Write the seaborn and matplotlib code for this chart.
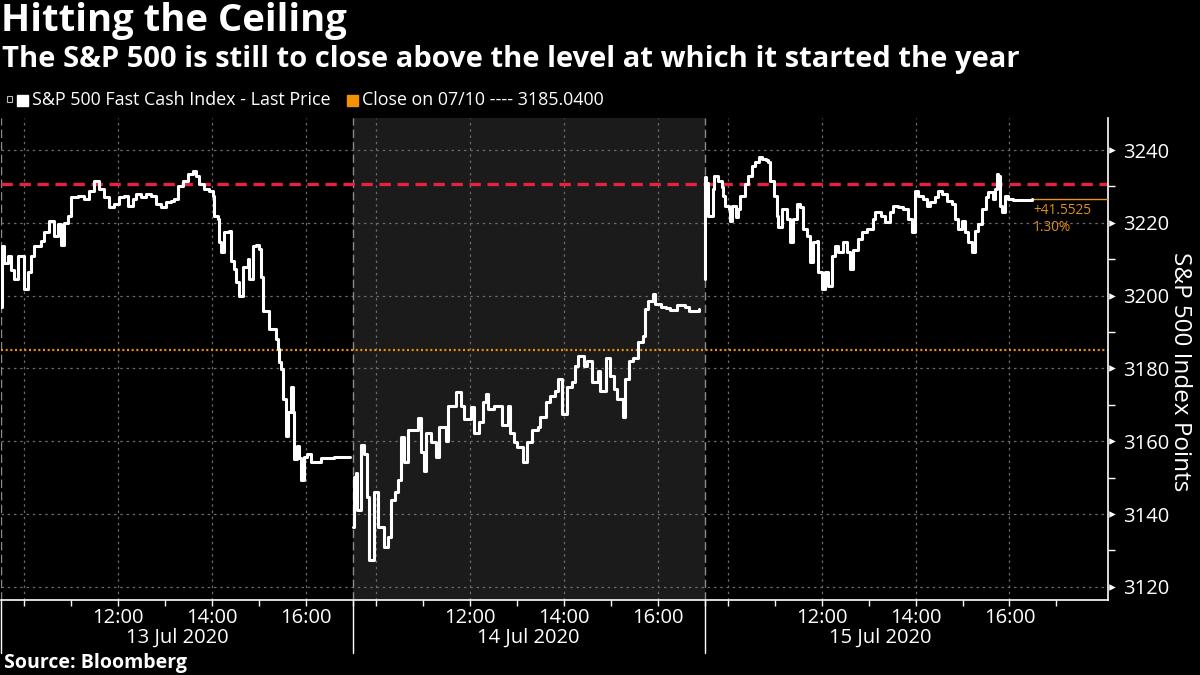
import matplotlib
matplotlib.use("Agg")
import matplotlib.pyplot as plt
import matplotlib.transforms as mtransforms
import seaborn as sns
import pandas as pd
import numpy as np

# ---------------- data ----------------
day_labels = ["13 Jul 2020", "14 Jul 2020", "15 Jul 2020"]

d1_time = [9.50, 9.52, 9.56, 9.65, 9.71, 9.78, 9.86, 9.97, 9.99, 10.08, 10.14, 10.20, 10.35, 10.42,
           10.52, 10.63, 10.71, 10.78, 10.84, 10.93, 10.99, 11.14, 11.27, 11.37, 11.48, 11.59, 11.69,
           11.80, 11.91, 12.01, 12.12, 12.20, 12.31, 12.38, 12.48, 12.59, 12.69, 12.80, 12.91, 13.01,
           13.12, 13.18, 13.27, 13.38, 13.48, 13.59, 13.65, 13.72, 13.82, 13.93, 14.02, 14.04, 14.12,
           14.14, 14.19, 14.25, 14.36, 14.40, 14.46, 14.51, 14.57, 14.65, 14.76, 14.78, 14.87, 14.93,
           14.99, 15.04, 15.08, 15.19, 15.21, 15.29, 15.36, 15.40, 15.42, 15.46, 15.51, 15.57, 15.61,
           15.68, 15.72, 15.74, 15.80, 15.85, 15.89, 15.95, 16.02, 16.10, 16.32, 16.59, 16.95]
d1_price = [3197.0, 3213.6, 3209.0, 3211.0, 3207.0, 3204.5, 3210.8, 3210.8, 3201.8, 3206.4, 3210.8,
            3213.6, 3215.0, 3217.4, 3220.5, 3216.4, 3219.6, 3214.0, 3220.0, 3221.8, 3227.0, 3227.4,
            3226.5, 3228.7, 3231.5, 3229.3, 3227.0, 3224.3, 3225.1, 3227.0, 3227.4, 3224.6, 3226.5,
            3227.9, 3227.0, 3227.9, 3227.4, 3225.1, 3224.3, 3225.7, 3226.0, 3226.5, 3230.0, 3231.5,
            3233.4, 3234.2, 3232.8, 3230.6, 3229.3, 3228.7, 3227.4, 3221.8, 3221.0, 3214.7, 3212.0,
            3217.4, 3217.7, 3209.5, 3207.3, 3203.7, 3199.8, 3208.0, 3210.0, 3204.5, 3213.6, 3214.0,
            3212.8, 3205.0, 3195.7, 3195.7, 3190.8, 3190.8, 3188.0, 3185.3, 3181.7, 3179.8, 3171.5,
            3161.5, 3168.0, 3175.0, 3168.0, 3155.0, 3158.6, 3155.5, 3149.5, 3155.8, 3156.5, 3154.2,
            3155.5, 3155.8, 3155.8]

d2_time = [9.50, 9.52, 9.56, 9.60, 9.67, 9.73, 9.80, 9.84, 9.92, 9.95, 10.03, 10.09, 10.16, 10.24,
           10.31, 10.41, 10.46, 10.52, 10.59, 10.67, 10.78, 10.88, 10.95, 11.01, 11.05, 11.16, 11.27,
           11.33, 11.48, 11.54, 11.69, 11.80, 11.86, 12.01, 12.08, 12.18, 12.27, 12.33, 12.39, 12.50,
           12.61, 12.69, 12.80, 12.86, 12.93, 13.01, 13.12, 13.22, 13.33, 13.44, 13.50, 13.61, 13.71,
           13.82, 13.88, 13.97, 14.07, 14.18, 14.24, 14.31, 14.42, 14.50, 14.61, 14.72, 14.78, 14.89,
           14.99, 15.06, 15.14, 15.25, 15.31, 15.38, 15.48, 15.59, 15.68, 15.74, 15.80, 15.89, 15.95,
           16.06, 16.17, 16.27, 16.42, 16.59, 16.66, 16.87]
d2_price = [3136.5, 3150.3, 3151.4, 3141.0, 3159.0, 3156.4, 3144.8, 3127.5, 3127.5, 3146.0, 3136.5,
            3136.5, 3131.0, 3133.8, 3144.0, 3146.0, 3149.5, 3161.3, 3154.2, 3163.2, 3163.0, 3166.5,
            3157.0, 3151.7, 3162.4, 3159.7, 3155.8, 3164.0, 3160.0, 3169.6, 3173.4, 3169.6, 3166.0,
            3169.3, 3162.4, 3165.2, 3170.7, 3172.9, 3168.8, 3169.6, 3169.6, 3164.6, 3169.6, 3162.4,
            3159.7, 3158.3, 3154.4, 3159.7, 3163.2, 3164.0, 3166.8, 3170.7, 3172.3, 3173.7, 3177.0,
            3167.4, 3175.0, 3176.2, 3180.6, 3183.4, 3180.6, 3182.0, 3176.2, 3179.2, 3173.7, 3183.0,
            3177.8, 3174.3, 3171.5, 3166.8, 3177.0, 3182.0, 3183.0, 3187.2, 3188.8, 3196.2, 3198.5,
            3200.4, 3197.6, 3196.8, 3196.5, 3196.0, 3197.3, 3197.0, 3195.7, 3196.3]

d3_time = [9.50, 9.51, 9.54, 9.58, 9.67, 9.69, 9.79, 9.88, 9.90, 9.94, 10.01, 10.05, 10.09, 10.16,
           10.22, 10.26, 10.37, 10.43, 10.52, 10.58, 10.65, 10.73, 10.80, 10.86, 10.90, 10.97, 11.05,
           11.07, 11.16, 11.26, 11.33, 11.39, 11.48, 11.54, 11.60, 11.69, 11.75, 11.82, 11.90, 11.92,
           12.01, 12.07, 12.14, 12.22, 12.29, 12.35, 12.46, 12.54, 12.61, 12.67, 12.76, 12.86, 12.97,
           13.08, 13.14, 13.25, 13.35, 13.46, 13.52, 13.63, 13.73, 13.84, 13.92, 13.99, 14.05, 14.16,
           14.24, 14.31, 14.42, 14.48, 14.57, 14.67, 14.78, 14.84, 14.90, 14.99, 15.05, 15.12, 15.20,
           15.27, 15.33, 15.42, 15.49, 15.55, 15.64, 15.70, 15.74, 15.76, 15.80, 15.85, 15.91, 15.97,
           16.08, 16.23, 16.38, 16.49]
d3_price = [3204.5, 3232.6, 3231.0, 3221.8, 3229.3, 3232.8, 3231.5, 3229.8, 3227.4, 3224.6, 3223.8,
            3220.5, 3224.6, 3221.6, 3223.8, 3227.4, 3230.6, 3232.8, 3235.6, 3236.7, 3238.0, 3237.5,
            3237.2, 3236.7, 3231.5, 3227.4, 3221.8, 3218.8, 3223.8, 3221.0, 3214.7, 3221.0, 3225.1,
            3224.3, 3218.3, 3216.4, 3209.2, 3214.7, 3215.0, 3206.4, 3201.8, 3206.4, 3202.6, 3210.8,
            3213.6, 3212.0, 3214.7, 3212.0, 3207.3, 3212.5, 3215.5, 3217.4, 3218.3, 3221.0, 3222.9,
            3222.0, 3220.2, 3222.9, 3224.6, 3224.3, 3223.8, 3221.0, 3217.4, 3228.7, 3227.4, 3226.5,
            3224.6, 3225.7, 3227.0, 3228.7, 3228.0, 3226.0, 3225.1, 3221.0, 3218.3, 3220.5, 3217.4,
            3214.7, 3212.0, 3217.7, 3219.6, 3223.8, 3227.0, 3228.4, 3226.5, 3229.3, 3233.4, 3233.0,
            3224.6, 3222.9, 3227.4, 3226.5, 3226.2, 3226.2, 3226.4, 3226.59]

prev_close = 3185.04
year_start_level = 3230.78
change_text = "+41.5525"
change_pct_text = "1.30%"

y_ticks = [3120, 3140, 3160, 3180, 3200, 3220, 3240]
hour_labels = {12: "12:00", 14: "14:00", 16: "16:00"}

# ---------------- layout constants ----------------
OPEN_H = 9.5
DAY_LEN = 7.5   # 9:30 -> 17:00 per day on the axis
X_MAX = 23.6

frames = []
for i, (t, p) in enumerate([(d1_time, d1_price), (d2_time, d2_price), (d3_time, d3_price)]):
    frames.append(pd.DataFrame({"x": np.array(t) - OPEN_H + i * DAY_LEN, "price": p, "day": i}))
df = pd.concat(frames, ignore_index=True)

sns.set_theme(style="dark")
plt.rcParams["font.family"] = ["Open Sans", "DejaVu Sans"]

WHITE = "#ffffff"
BG = "#000000"
fig = plt.figure(figsize=(12, 6.75), dpi=100, facecolor=BG)
ax = fig.add_axes([1 / 1200, 75 / 675, 1107 / 1200, 482 / 675])
ax.set_facecolor(BG)

# shaded middle day
ax.axvspan(DAY_LEN, 2 * DAY_LEN, color="#1b1b1b", zorder=0, lw=0)

# grid lines
for yv in y_ticks:
    ax.axhline(yv, color="#6a6a6a", lw=0.9, ls=(0, (2, 3)), zorder=1)
for i in range(3):
    for h in [10, 12, 14, 16]:
        ax.axvline(i * DAY_LEN + h - OPEN_H, color="#6a6a6a", lw=0.9, ls=(0, (2, 3)), zorder=1)
    ax.axvline(i * DAY_LEN, color="#8a8a8a", lw=1.0, ls=(0, (6, 3)), zorder=1)

# reference lines
ax.axhline(year_start_level, color="#e8213f", lw=2.4, ls=(0, (3.4, 2.0)), zorder=2)
ax.axhline(prev_close, color="#f0900a", lw=1.6, ls=(0, (0.9, 1.2)), zorder=2)

# price line
sns.lineplot(data=df, x="x", y="price", units="day", estimator=None, color=WHITE,
             lw=2.2, drawstyle="steps-post", ax=ax, zorder=4, legend=False)

# last price marker line + annotation
last_x = df["x"].iloc[-1]
last_p = df["price"].iloc[-1]
ax.plot([last_x, X_MAX], [last_p, last_p], color="#e8961e", lw=1.0, zorder=3)
ax.text(last_x + 0.01, last_p - 1.2, change_text, color="#e08e1b", fontsize=9.8,
        ha="left", va="top")
ax.text(last_x + 0.01, last_p - 5.8, change_pct_text, color="#e08e1b", fontsize=9.8,
        ha="left", va="top")

ax.set_xlim(0, X_MAX)
ax.set_ylim(3116.4, 3248.8)

# y axis on the right
ax.yaxis.tick_right()
ax.yaxis.set_label_position("right")
ax.set_yticks(y_ticks)
ax.set_yticklabels([str(v) for v in y_ticks])
ax.set_yticks([v + 10 for v in y_ticks[:-1]], minor=True)
ax.tick_params(axis="y", which="major", length=0, pad=11, labelsize=14.5, colors=WHITE)
ax.tick_params(axis="y", which="minor", length=5, width=1, color=WHITE, direction="out", right=True, left=False)
tri_tr = mtransforms.blended_transform_factory(ax.transAxes, ax.transData)
ax.scatter([1.004] * len(y_ticks), y_ticks, marker=">", s=22, color=WHITE, transform=tri_tr,
           clip_on=False, zorder=6, lw=0)
ax.set_ylabel("S&P 500 Index Points", rotation=270, fontsize=17.5, color=WHITE, va="center")
ax.yaxis.set_label_coords(1.065, 0.473)

# x axis
major_x, major_lab = [], []
for i in range(3):
    for h in [10, 12, 14, 16]:
        major_x.append(i * DAY_LEN + h - OPEN_H)
        major_lab.append(hour_labels.get(h, ""))
minor_x = [i * DAY_LEN + h - OPEN_H for i in range(3) for h in [11, 13, 15, 17]]
ax.set_xticks(major_x)
ax.set_xticklabels(major_lab)
ax.set_xticks(minor_x, minor=True)
ax.tick_params(axis="x", which="both", length=4, width=1, color=WHITE, direction="out",
               bottom=True, labelsize=14.5, labelcolor=WHITE, pad=2)
ax.set_xlabel("")
ax.grid(False)

day_tr = mtransforms.blended_transform_factory(ax.transData, ax.transAxes)
for i, lab in enumerate(day_labels):
    ax.text(i * DAY_LEN + DAY_LEN / 2, -0.079, lab, transform=day_tr, ha="center", va="center",
            fontsize=14.5, color=WHITE)
for i in range(3):
    ax.plot([i * DAY_LEN, i * DAY_LEN], [0, -0.11], transform=day_tr, color=WHITE, lw=1.0,
            clip_on=False)

for s in ["top", "left"]:
    ax.spines[s].set_visible(False)
ax.spines["bottom"].set_color(WHITE)
ax.spines["bottom"].set_linewidth(1.2)
ax.spines["right"].set_color(WHITE)
ax.spines["right"].set_linewidth(1.2)

# titles
fig.text(1 / 1200, 1 - 21 / 675, "Hitting the Ceiling", fontsize=27.5, fontweight="bold",
         color=WHITE, va="center", ha="left")
fig.text(2 / 1200, 1 - 60 / 675,
         "The S&P 500 is still to close above the level at which it started the year",
         fontsize=21, fontweight="bold", color=WHITE, va="center", ha="left")

# legend row
fig.patches.append(plt.Rectangle((17 / 1200, 1 - 106 / 675), 11 / 1200, 11 / 675,
                                 transform=fig.transFigure, color=WHITE))
fig.patches.append(plt.Rectangle((7 / 1200, 1 - 102 / 675), 5 / 1200, 6 / 675,
                                 transform=fig.transFigure, fill=False, ec="#bbbbbb", lw=0.8))
fig.text(32 / 1200, 1 - 100 / 675, "S&P 500 Fast Cash Index - Last Price", fontsize=12.9,
         color=WHITE, va="center", ha="left")
fig.patches.append(plt.Rectangle((347 / 1200, 1 - 106 / 675), 11 / 1200, 11 / 675,
                                 transform=fig.transFigure, color="#f39200"))
fig.text(362 / 1200, 1 - 100 / 675, "Close on 07/10 ---- 3185.0400", fontsize=12.9,
         color=WHITE, va="center", ha="left")

fig.text(4 / 1200, 1 - 663 / 675, "Source: Bloomberg", fontsize=14, fontweight="bold",
         color=WHITE, va="center", ha="left")

fig.savefig("out.png", dpi=100, facecolor=BG)
